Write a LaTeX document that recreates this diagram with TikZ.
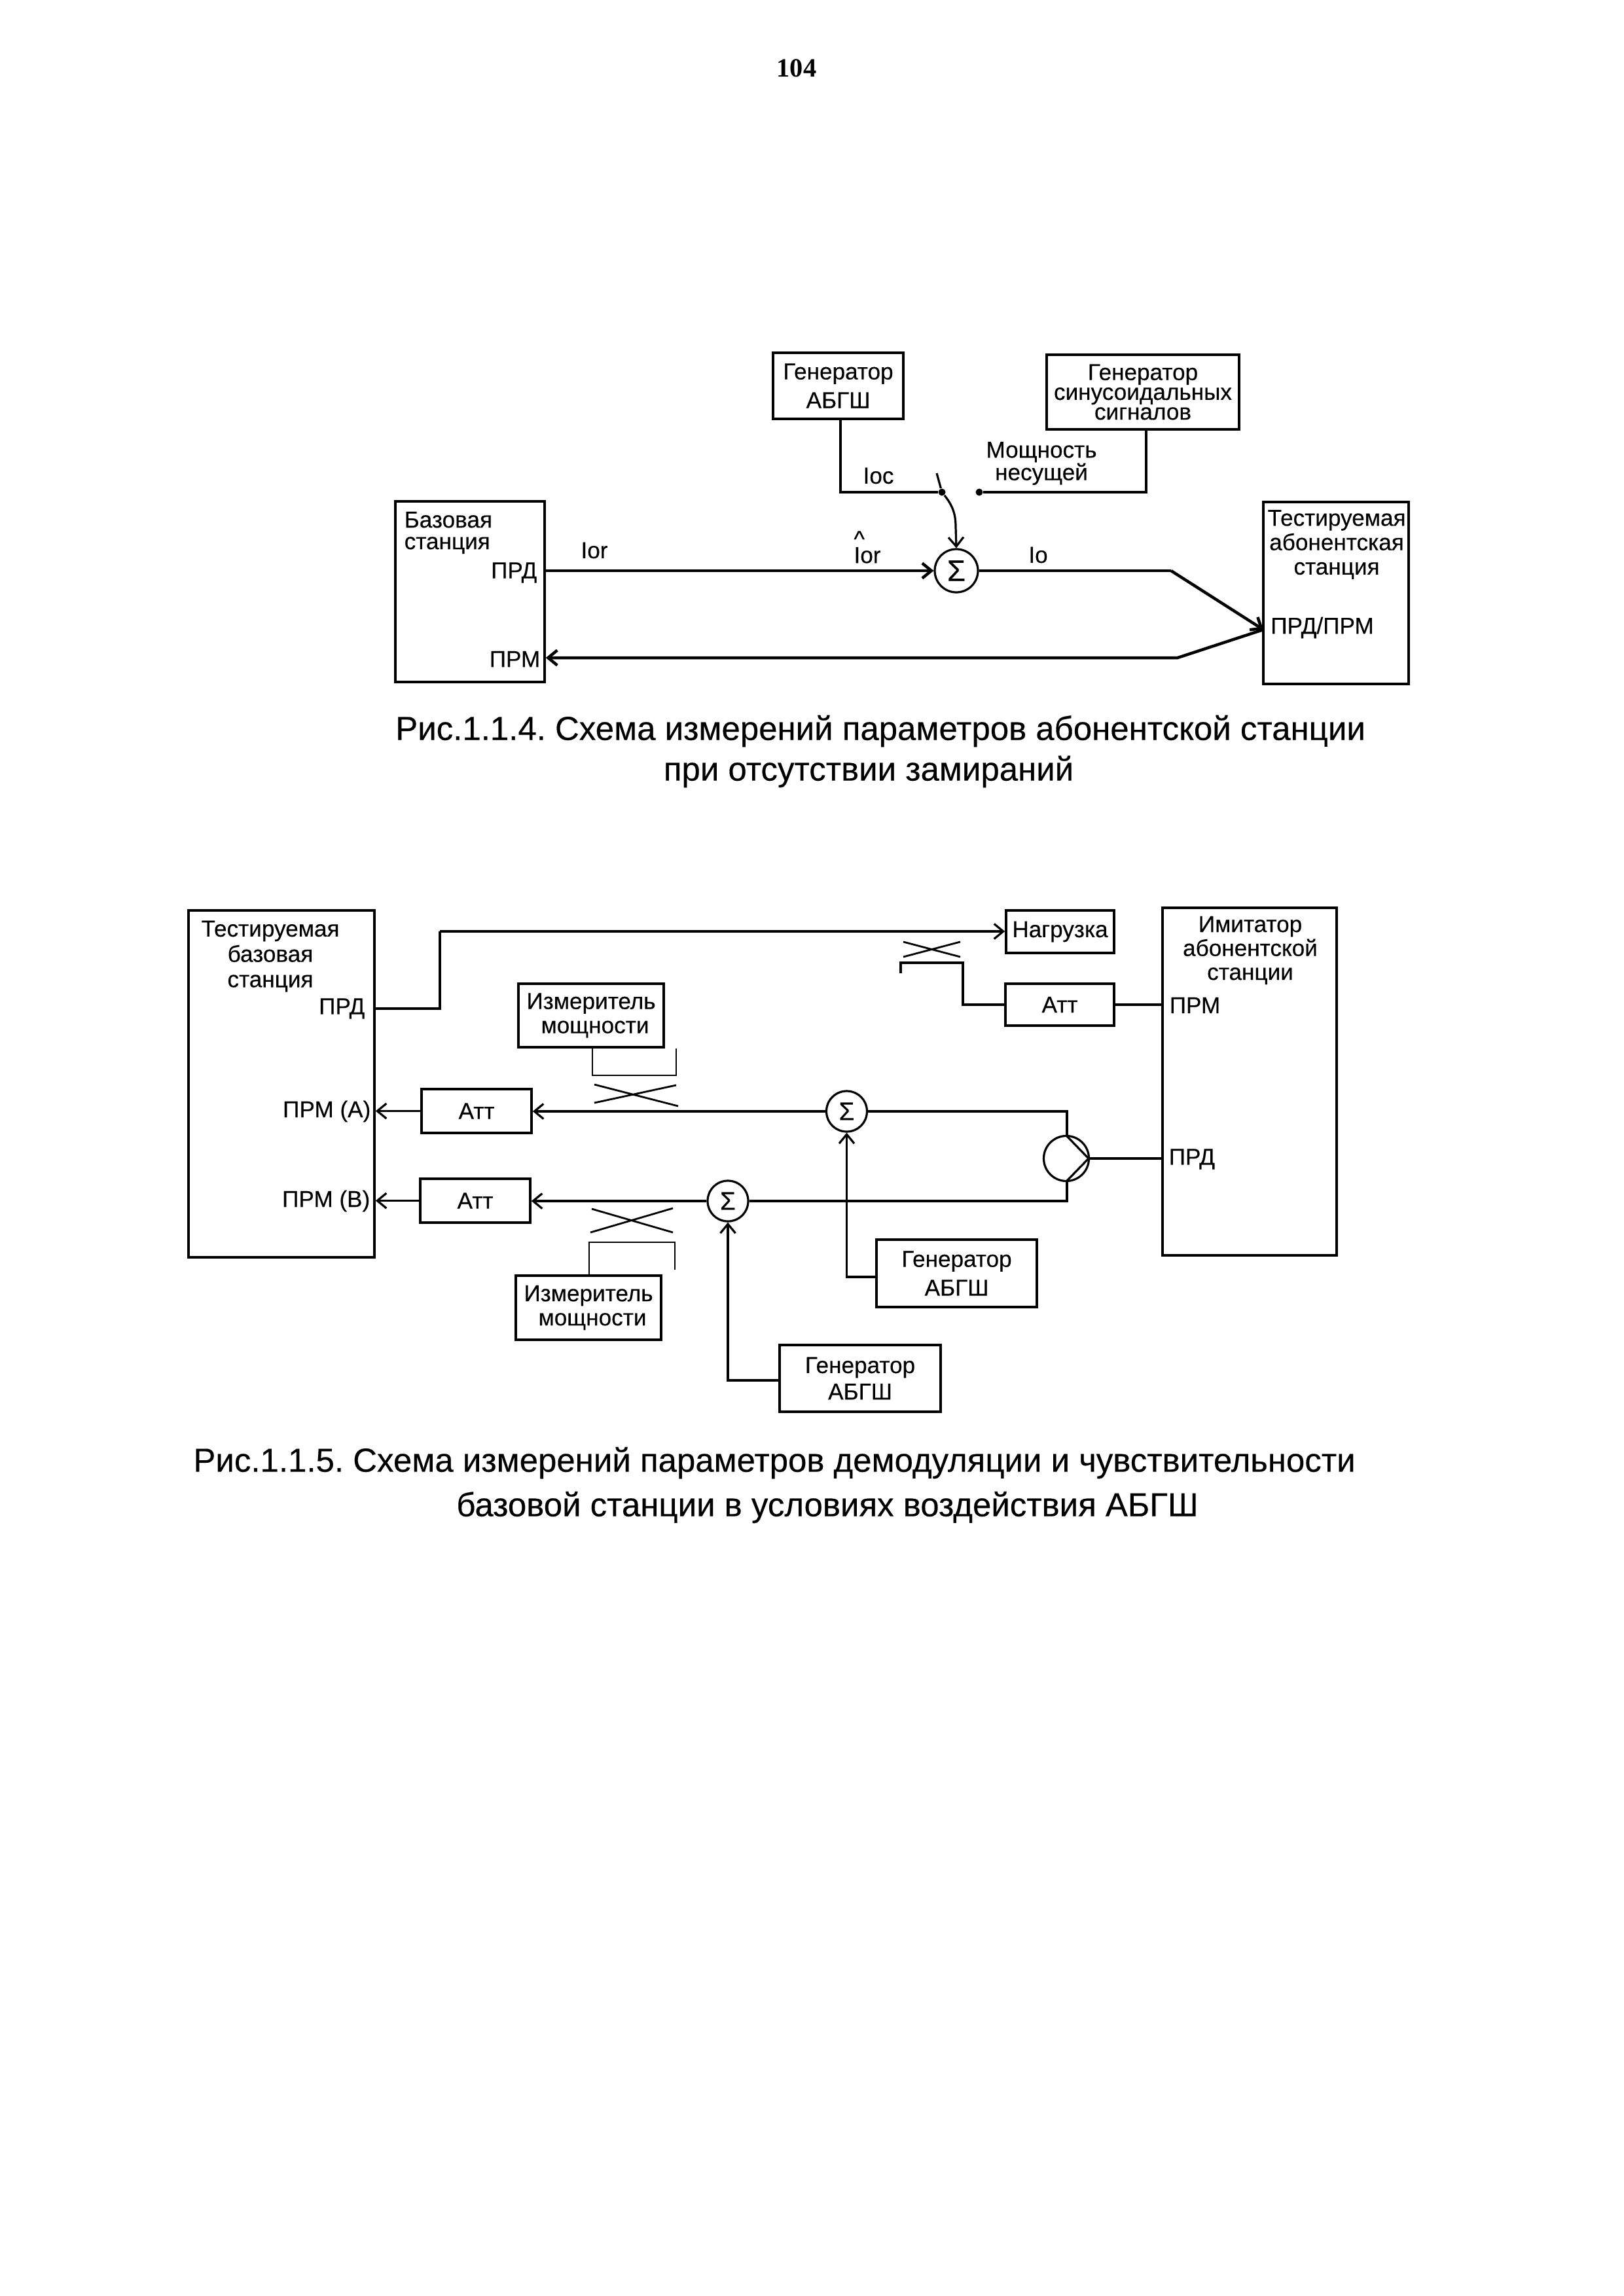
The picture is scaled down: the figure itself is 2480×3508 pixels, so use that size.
\documentclass[tikz,border=0pt]{standalone}
\usepackage{fontspec}
\setmainfont[FakeBold=0.25]{Liberation Sans}
\newfontfamily\pagefont{Liberation Serif}
\usetikzlibrary{arrows.meta}
\tikzset{
  x=0.1mm,y=-0.1mm,
  >={Straight Barb[length=1.4mm,width=2.3mm]},
  line/.style={line width=0.32mm,black},
  heavy/.style={line width=0.45mm,black},
  thinline/.style={line width=0.28mm,black},
  box/.style={draw,line width=0.36mm,inner sep=0pt,align=center,font=\fontsize{10}{11.5}\selectfont},
  lbl/.style={inner sep=0pt,font=\fontsize{10}{12}\selectfont},
  sumnode/.style={draw,circle,line width=0.32mm,inner sep=0pt},
  dotnode/.style={fill=black,circle,inner sep=0pt,minimum size=1.1mm},
  captxt/.style={inner sep=0pt,font=\fontsize{14.5}{18}\selectfont,text=black},
}
\frenchspacing
\begin{document}
\begin{tikzpicture}
\useasboundingbox (0,0) rectangle (2480,3508);
\fill[white] (0,0) rectangle (2480,3508);
\node[inner sep=0pt,font=\pagefont\bfseries\fontsize{11.5}{13}\selectfont] (pg) at (1217,104) {104};

% ---------- Figure 1.1.4 ----------
\node[box,minimum width=22.8mm,minimum height=27.6mm] (base) at (718,904) {};
\node[box,minimum width=22.2mm,minimum height=27.8mm] (test) at (2041,906) {};
\node[box,minimum width=19.9mm,minimum height=10.1mm] (gen1) at (1280.5,589.5) {Генератор\\[1pt]АБГШ};
\node[box,minimum width=29.4mm,minimum height=11.4mm,font=\fontsize{10}{8.6}\selectfont] (gen2) at (1746,599) {Генератор\\синусоидальных\\сигналов};
\node[sumnode,minimum size=6.6mm,font=\fontsize{13}{13}\selectfont] (sum1) at (1461,872) {Σ};
\node[dotnode] (sw1) at (1439,752) {};
\node[dotnode] (sw2) at (1496,752) {};
\coordinate (swtop) at (1431,723);
\coordinate (up) at (1789,872);
\coordinate (down) at (1799,1005);
\coordinate (port) at (1930,962);

\draw[heavy,->] (base.east |- sum1) -- (sum1.west);
\draw[heavy] (sum1.east) -- (up);
\draw[heavy,->] (up) -- (port);
\draw[heavy,->] (port) -- (down) -- (base.east |- down);
\draw[line] (1284,640) |- (sw1);
\draw[line] ([xshift=0.5mm]gen2.south) |- (sw2);
\draw[line] (swtop) -- (sw1);
\draw[line,->] (sw1) .. controls (1455,772) and (1460,785) .. (1460,805) -- (sum1.north);

\node[lbl,anchor=west,align=left,font=\fontsize{10}{9.4}\selectfont] (t1) at (617,814) {Базовая\\станция};
\node[lbl,anchor=east] (t3) at (821,875) {ПРД};
\node[lbl,anchor=east] (t4) at (826,1007) {ПРМ};
\node[lbl,align=center,font=\fontsize{10}{10.6}\selectfont] (t5) at (2042,832) {Тестируемая\\абонентская\\станция};
\node[lbl] (t8) at (2020,959) {ПРД/ПРМ};
\node[lbl] (t9) at (1342,727) {Ioc};
\node[lbl,align=center,font=\fontsize{10}{9.8}\selectfont] (t10) at (1591,708) {Мощность\\несущей};
\node[lbl] (t12) at (908,841) {Ior};
\node[lbl,align=left,font=\fontsize{10}{7}\selectfont] (t13) at (1325,836) {\textasciicircum\\Ior};
\node[lbl] (t15) at (1586,848) {Io};

\node[captxt] (c1) at (1345,1117) {Рис.1.1.4. Схема измерений параметров абонентской станции};
\node[captxt] (c2) at (1327,1179) {при отсутствии замираний};

% ---------- Figure 1.1.5 ----------
\node[box,minimum width=28.4mm,minimum height=53mm] (bts) at (430,1656) {};
\node[box,minimum width=26.6mm,minimum height=53.1mm] (sim) at (1909,1652.5) {};
\node[box,minimum width=16.5mm,minimum height=6.5mm] (load) at (1619.5,1423.5) {Нагрузка};
\node[box,minimum width=16.6mm,minimum height=6.4mm] (att3) at (1619,1535) {Атт};
\node[box,minimum width=16.8mm,minimum height=6.7mm] (att1) at (728,1697.5) {Атт};
\node[box,minimum width=16.8mm,minimum height=6.7mm] (att2) at (726,1834.5) {Атт};
\node[box,minimum width=22.2mm,minimum height=9.7mm,font=\fontsize{10}{10.5}\selectfont] (mes1) at (903,1551.5) {Измеритель\\\hspace*{1.2mm}мощности};
\node[box,minimum width=22.2mm,minimum height=9.8mm,font=\fontsize{10}{10.5}\selectfont] (mes2) at (899,1998) {Измеритель\\\hspace*{1.2mm}мощности};
\node[box,minimum width=24.5mm,minimum height=10.3mm,font=\fontsize{10}{12.5}\selectfont] (gena) at (1461.5,1945.5) {Генератор\\АБГШ};
\node[box,minimum width=24.6mm,minimum height=10.2mm,font=\fontsize{10}{11.5}\selectfont] (genb) at (1314,2106) {Генератор\\АБГШ};
\node[sumnode,minimum size=6.2mm,font=\fontsize{11}{11}\selectfont] (suma) at (1293.5,1698) {Σ};
\node[sumnode,minimum size=6.2mm,font=\fontsize{11}{11}\selectfont] (sumb) at (1112,1835) {Σ};
\node[sumnode,minimum size=6.9mm] (circ) at (1629,1770) {};
\coordinate (cin) at (1630,1736);
\coordinate (cout) at (1663,1770);
\coordinate (cbot) at (1630,1804);

\draw[line] (bts.east |- 0,1541) -- (672,1541) |- (672,1423);
\draw[line,->] (672,1423) -- (load.west |- 672,1423);
\draw[line] (att3.east) -- (sim.west |- att3);
\draw[line] (att3.west) -- (1471,1535) |- (1376,1471) -- (1376,1487);
\draw[line,->] (att1.west) -- (bts.east |- att1);
\draw[line,->] (att2.west) -- (bts.east |- att2);
\draw[line,->] (suma.west) -- (att1.east |- suma);
\draw[line,->] (sumb.west) -- (att2.east |- sumb);
\draw[line] (suma.east) -| (cin);
\draw[line] (cbot) |- (sumb.east);
\draw[line] (cin) -- (cout) -- (cbot);
\draw[line] (cout) -- (sim.west |- cout);
\draw[line,->] (gena.west |- 0,1951) -| (suma.south);
\draw[line,->] (genb.west |- 0,2109) -| (sumb.south);
% directional couplers
\draw[thinline] (1380,1439) -- (1467,1462) (1380,1462) -- (1467,1439);
\draw[thinline] (908,1657) -- (1036,1690) (908,1685) -- (1033,1658);
\draw[thinline] (904,1847) -- (1028,1883) (902,1883) -- (1028,1846);
\draw[thinline] (905,1602) |- (1033,1643) -- (1033,1602);
\draw[thinline] (900,1949) |- (1031,1898) -- (1031,1940);

\node[lbl,align=center,font=\fontsize{10}{11}\selectfont] (b1) at (413,1461) {Тестируемая\\базовая\\станция};
\node[lbl,anchor=east] (b4) at (558,1541) {ПРД};
\node[lbl,anchor=east] (b5) at (567,1698) {ПРМ (А)};
\node[lbl,anchor=east] (b6) at (566,1835) {ПРМ (В)};
\node[lbl,align=center,font=\fontsize{10}{10.4}\selectfont] (s1) at (1910,1452) {Имитатор\\абонентской\\станции};
\node[lbl,anchor=west] (s4) at (1786,1536) {ПРМ};
\node[lbl,anchor=west] (s5) at (1785,1771) {ПРД};

\node[captxt] (c3) at (1183,2235) {Рис.1.1.5. Схема измерений параметров демодуляции и чувствительности};
\node[captxt] (c4) at (1264,2303) {базовой станции в условиях воздействия АБГШ};
\end{tikzpicture}
\end{document}
